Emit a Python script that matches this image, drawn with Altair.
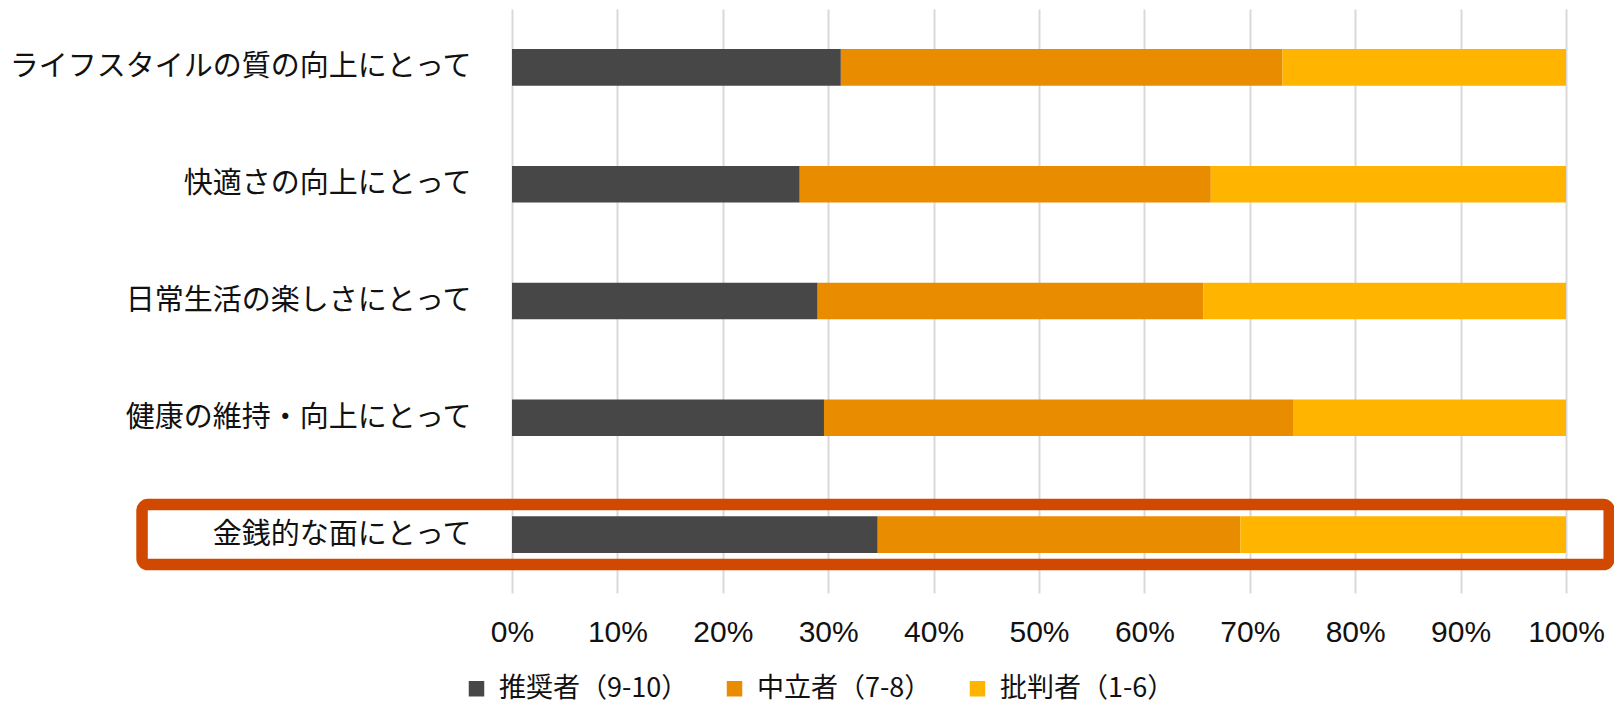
import altair as alt
import pandas as pd

categories = [
    "ライフスタイルの質の向上にとって",
    "快適さの向上にとって",
    "日常生活の楽しさにとって",
    "健康の維持・向上にとって",
    "金銭的な面にとって",
]
series = ["推奨者（9-10）", "中立者（7-8）", "批判者（1-6）"]
promoters = [31.2, 27.3, 29.0, 29.6, 34.7]
neutrals = [41.9, 39.0, 36.6, 44.5, 34.4]
critics = [26.9, 33.7, 34.4, 25.9, 30.9]
colors = ["#474747", "#EA8C00", "#FFB500"]
x_ticks = [0, 10, 20, 30, 40, 50, 60, 70, 80, 90, 100]

highlight_category = ["金銭的な面にとって"]
highlight_start = [-35.1]
highlight_end = [104.1]

rows = []
for i, cat in enumerate(categories):
    for j, (name, vals) in enumerate(zip(series, [promoters, neutrals, critics])):
        rows.append({"category": cat, "series": name, "value": vals[i], "order": j})
df = pd.DataFrame(rows)
hl = pd.DataFrame({"category": highlight_category, "x0": highlight_start, "x1": highlight_end})

x_scale = alt.Scale(domain=[0, 100], nice=False, zero=False)
y_scale = alt.Scale(domain=categories, paddingInner=0.687, paddingOuter=0.3435)

x_axis = alt.Axis(
    title=None, values=x_ticks, labelExpr="datum.value + '%'",
    grid=True, gridColor="#D9D9D9", gridWidth=2, domain=False, ticks=False, tickSize=0,
    labelFont="Liberation Sans", labelFontSize=30, labelColor="#111111", labelPadding=24,
    labelFlush=False, labelOverlap=False, labelAlign="center",
)
y_axis = alt.Axis(
    title=None, grid=False, domain=False, ticks=False, tickSize=0,
    labelFont="Noto Sans CJK JP", labelFontSize=29, labelColor="#111111",
    labelPadding=41, labelLimit=600, labelAlign="right",
)

bars = alt.Chart(df).mark_bar().encode(
    x=alt.X("value:Q", stack="zero", scale=x_scale, axis=x_axis),
    y=alt.Y("category:N", sort=categories, scale=y_scale, axis=y_axis),
    color=alt.Color(
        "series:N",
        scale=alt.Scale(domain=series, range=colors),
        legend=alt.Legend(
            title=None, orient="none", direction="horizontal",
            legendX=-49, legendY=666, padding=0,
            symbolType="square", symbolSize=240, symbolStrokeWidth=0,
            labelFont="Noto Sans CJK JP", labelFontSize=27, labelColor="#111111",
            labelOffset=9, columnPadding=32, labelLimit=400,
        ),
    ),
    order=alt.Order("order:Q"),
)

box = alt.Chart(hl).mark_bar(
    size=60, fill="transparent", stroke="#D14900", strokeWidth=11.5, cornerRadius=6
).encode(
    x=alt.X("x0:Q", scale=x_scale, axis=x_axis),
    x2="x1:Q",
    y=alt.Y("category:N", sort=categories, scale=y_scale, axis=y_axis),
)

chart = alt.layer(bars, box).properties(
    width=1054, height=584,
    autosize=alt.AutoSizeParams(type="none"),
    padding={"left": 512, "top": 9, "right": 48, "bottom": 112},
    background="white",
).configure_view(stroke=None)

chart.save("out.html", embed_options={"renderer": "svg", "actions": False})
